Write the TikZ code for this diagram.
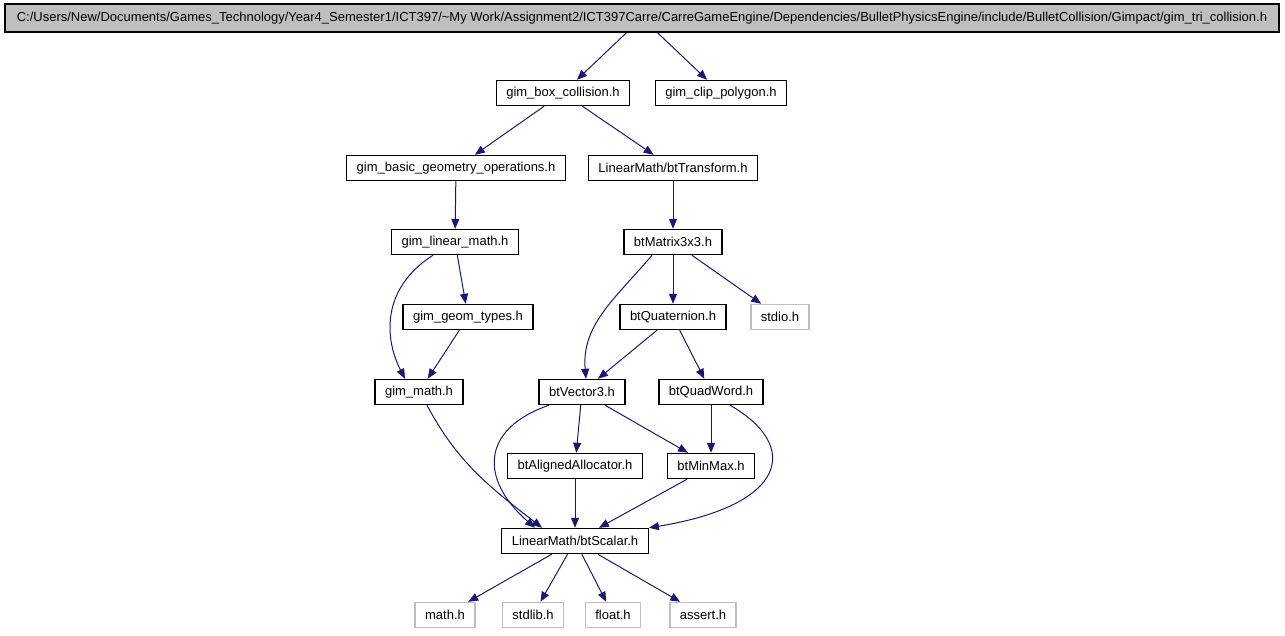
\documentclass[tikz,border=0pt]{standalone}
\usepackage{fontspec}
\setmainfont{Liberation Sans}
\usetikzlibrary{arrows.meta}
\definecolor{edgeblue}{RGB}{25,25,112}
\definecolor{lightframe}{RGB}{191,191,191}
\tikzset{
  file/.style={draw=black, line width=1.4pt, minimum height=25pt, inner xsep=10pt,
    font=\fontsize{13}{15}\selectfont},
  sysfile/.style={file, draw=lightframe},
  dep/.style={->, edgeblue, line width=1pt},
}
\begin{document}
\begin{tikzpicture}[x=1pt,y=-1pt,>={Triangle[length=10pt,width=8pt]}]
  \useasboundingbox (0,0) rectangle (1285,635);

  % Startfil
  \node[file, fill=lightframe, minimum width=1274pt, minimum height=28pt] (top) at (642,18)
    {C:/Users/New/Documents/Games\_Technology/Year4\_Semester1/ICT397/\textasciitilde My Work/Assignment2/ICT397Carre/CarreGameEngine/Dependencies/BulletPhysicsEngine/include/BulletCollision/Gimpact/gim\_tri\_collision.h};

  % Filer
  \node[file] (box)   at (563,93)  {gim\_box\_collision.h};
  \node[file] (clip)  at (721,93)  {gim\_clip\_polygon.h};
  \node[file] (basic) at (456,168) {gim\_basic\_geometry\_operations.h};
  \node[file] (trans) at (673,168) {LinearMath/btTransform.h};
  \node[file] (linm)  at (455,242) {gim\_linear\_math.h};
  \node[file] (mat)   at (673,242) {btMatrix3x3.h};
  \node[file] (geom)  at (468,317) {gim\_geom\_types.h};
  \node[file] (quat)  at (673,317) {btQuaternion.h};
  \node[sysfile] (stdio) at (780,317) {stdio.h};
  \node[file] (gmath) at (419,392) {gim\_math.h};
  \node[file] (vec)   at (582,392) {btVector3.h};
  \node[file] (quad)  at (711,392) {btQuadWord.h};
  \node[file] (alloc) at (575,466) {btAlignedAllocator.h};
  \node[file] (mm)    at (711,466) {btMinMax.h};
  \node[file] (scal)  at (575,541) {LinearMath/btScalar.h};

  % Systemfiler
  \foreach \n/\x/\t in {math/445/math.h, stdlib/533/stdlib.h, float/613/float.h, assert/703/assert.h} {
    \node[sysfile] (\n) at (\x,615) {\t};
    \draw[dep] (scal) -- (\n);
  }

  % Rette piler
  \foreach \a/\b in {top/box, top/clip, box/basic, box/trans, basic/linm, linm/geom,
      geom/gmath, trans/mat, mat/quat, mat/stdio, quat/vec, quat/quad,
      vec/alloc, vec/mm, quad/mm, alloc/scal, mm/scal} {
    \draw[dep] (\a) -- (\b);
  }

  % Buede piler
  \draw[dep] ([xshift=-22pt]linm.south) .. controls +(-53,34) and +(-20,-39) .. ([xshift=-14pt]gmath.north);
  \draw[dep] ([xshift=8pt]gmath.south) to[out=-62,in=142] ([xshift=-33pt]scal.north);
  \draw[dep] ([xshift=-21pt]mat.south) to[out=-130,in=95] ([xshift=4pt]vec.north);
  \draw[dep] ([xshift=-33pt]vec.south) .. controls +(-69,24) and +(-55,-48) .. ([xshift=-40pt]scal.north);
  \draw[dep] ([xshift=19pt]quad.south) .. controls +(70,40) and +(140,-23) .. (scal.north east);
\end{tikzpicture}
\end{document}
